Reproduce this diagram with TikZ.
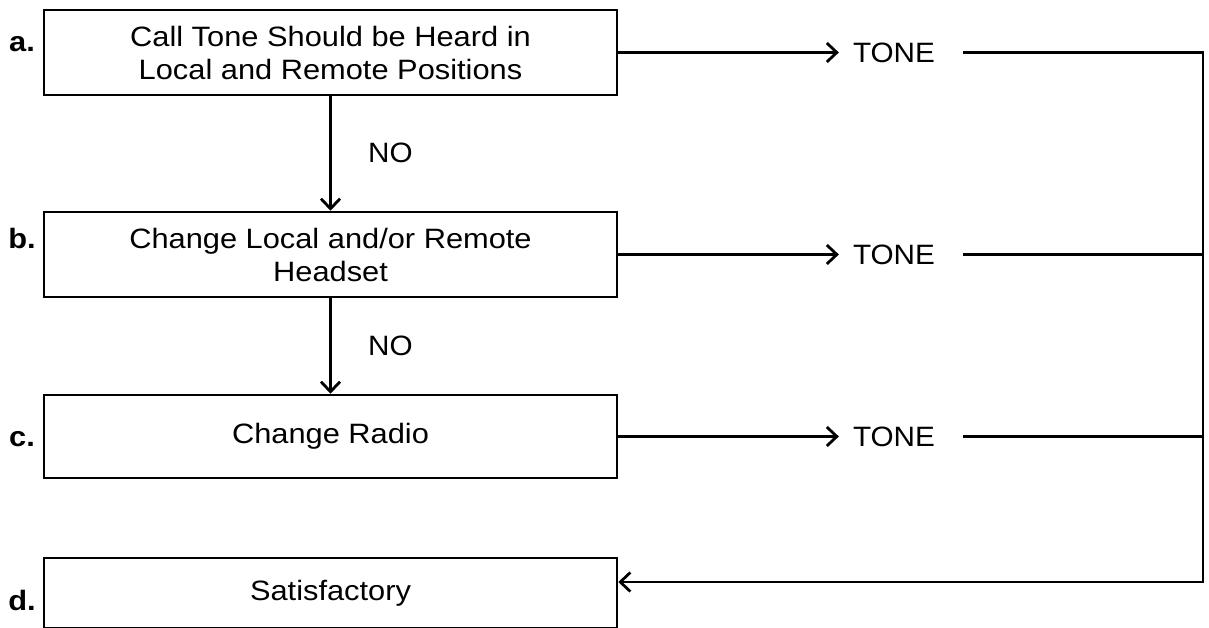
\documentclass[tikz,border=0pt]{standalone}
\usepackage{fontspec}
\setmainfont{Liberation Sans}[FakeStretch=1.1]
\newfontfamily\tonefont{Liberation Sans}[FakeStretch=1.06]
\usetikzlibrary{arrows.meta}
\begin{document}
\begin{tikzpicture}[x=1pt,y=-1pt,
  box/.style={draw, line width=2.5pt, minimum width=573pt, inner sep=0pt, align=center, font=\fontsize{28}{33}\selectfont},
  lbl/.style={inner sep=0pt, font=\bfseries\fontsize{28}{34}\selectfont},
  tone/.style={inner ysep=0pt, inner xsep=14pt, font=\tonefont\fontsize{28}{33}\selectfont},
  nolbl/.style={inner sep=0pt, anchor=west, font=\tonefont\fontsize{28}{33}\selectfont},
  conn/.style={line width=2.5pt},
  arr/.style={conn, -{Straight Barb[length=10pt,width=19pt,line width=2.8pt]}},
]
\useasboundingbox (0,0) rectangle (1209,628);
% boxes
\node[box, minimum height=85pt] (a) at (330.5,52.5) {Call Tone Should be Heard in\\Local and Remote Positions};
\node[box, minimum height=85pt] (b) at (330.5,254.5) {Change Local and/or Remote\\Headset};
\node[box, minimum height=83pt] (c) at (330.5,436.5) {Change Radio};
\node[box, minimum height=70pt] (d) at (330.5,593) {Satisfactory};
% step labels
\node[lbl] (la) at (22,44) {a.};
\node[lbl] (lb) at (22,238) {b.};
\node[lbl] (lc) at (22,439) {c.};
\node[lbl] (ld) at (22,600) {d.};
% NO connectors
\draw[arr] (a.south) -- (b.north);
\draw[arr] (b.south) -- (c.north);
\node[nolbl] (no1) at (368,153) {NO};
\node[nolbl] (no2) at (368,346) {NO};
% TONE
\node[tone] (t1) at (894,52.5) {TONE};
\node[tone] (t2) at (894,254.5) {TONE};
\node[tone] (t3) at (894,436.5) {TONE};
\draw[arr] (a.east) -- (t1.west);
\draw[arr] (b.east) -- (t2.west);
\draw[arr] (c.east) -- (t3.west);
\coordinate (ra) at (1203,52.5);
\coordinate (rd) at (1203,582);
\draw[conn, shorten <=14pt] (t1.east) -- (t1.east -| ra);
\draw[conn, shorten <=14pt] (t2.east) -- (t2.east -| ra);
\draw[conn, shorten <=14pt] (t3.east) -- (t3.east -| ra);
\draw[conn, line cap=rect] (ra) -- (rd);
\draw[arr] (rd) -- (d.east |- rd);
\end{tikzpicture}
\end{document}
